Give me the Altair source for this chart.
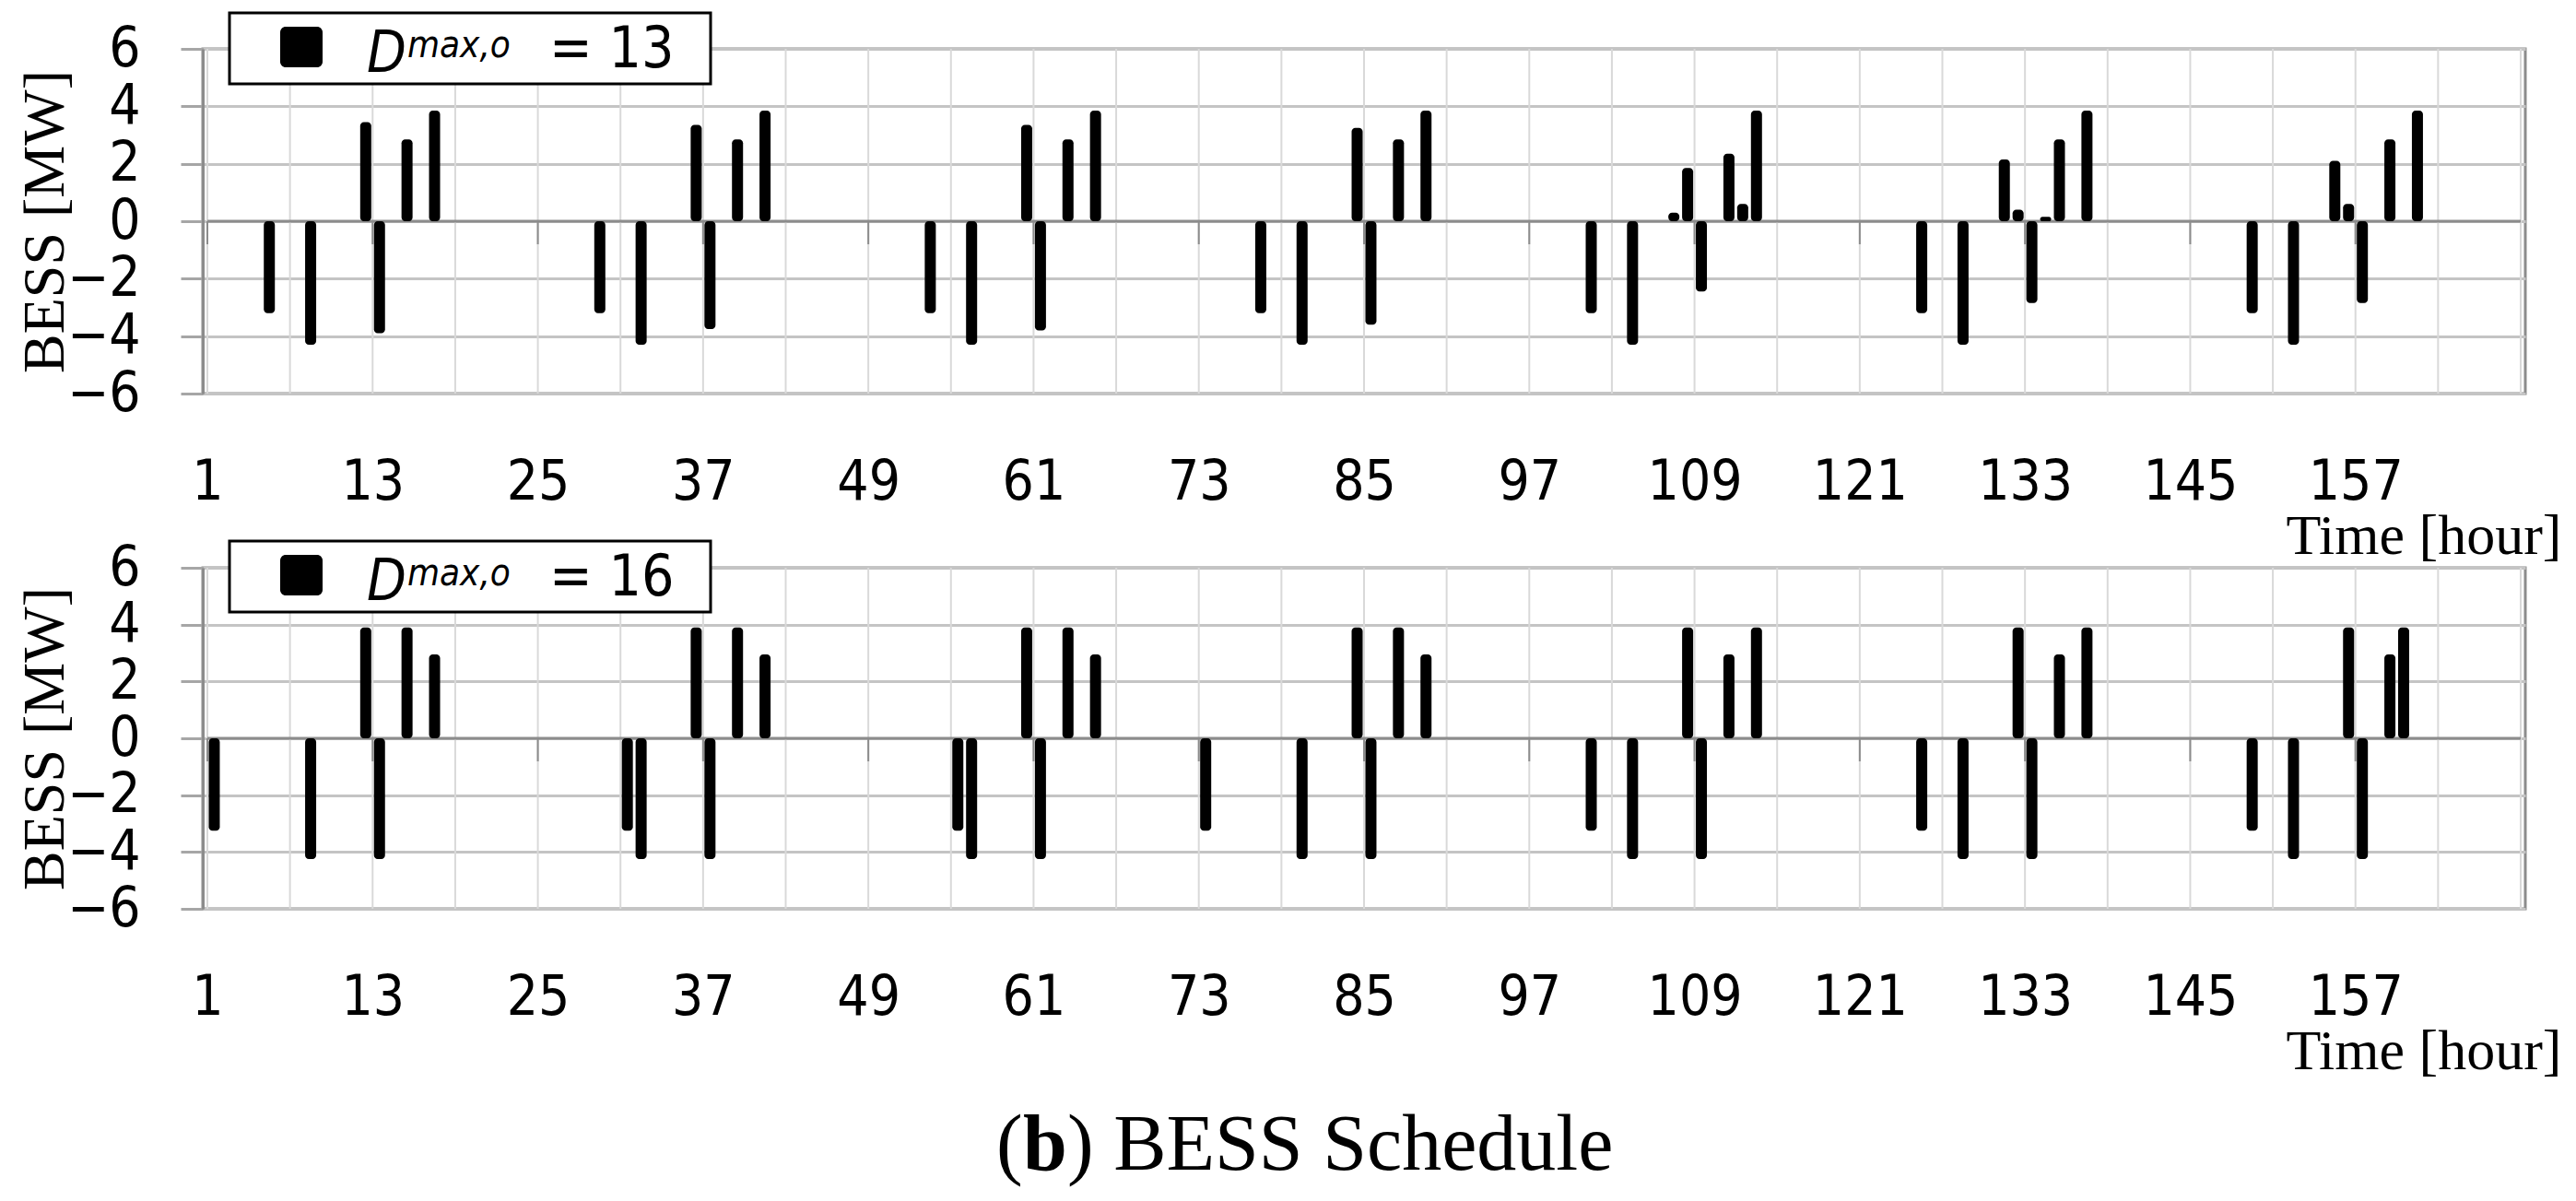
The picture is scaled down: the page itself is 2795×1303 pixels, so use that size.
import altair as alt
import pandas as pd

# ---------------- data ----------------
# upper panel  (D^max,o = 13) : hour index and BESS power [MW]
top_hours = [5, 8, 12, 13, 15, 17,
             29, 32, 36, 37, 39, 41,
             53, 56, 60, 61, 63, 65,
             77, 80, 84, 85, 87, 89,
             101, 104, 107, 108, 109, 111, 112, 113,
             125, 128, 131, 132, 133, 134, 135, 137,
             149, 152, 155, 156, 157, 159, 161]
top_values = [-3.2, -4.3, 3.45, -3.9, 2.85, 3.85,
              -3.2, -4.3, 3.35, -3.75, 2.85, 3.85,
              -3.2, -4.3, 3.35, -3.8, 2.85, 3.85,
              -3.2, -4.3, 3.25, -3.6, 2.85, 3.85,
              -3.2, -4.3, 0.3, 1.85, -2.45, 2.35, 0.6, 3.85,
              -3.2, -4.3, 2.15, 0.4, -2.85, 0.15, 2.85, 3.85,
              -3.2, -4.3, 2.1, 0.6, -2.85, 2.85, 3.85]

# lower panel (D^max,o = 16)
bottom_hours = [1, 8, 12, 13, 15, 17,
                31, 32, 36, 37, 39, 41,
                55, 56, 60, 61, 63, 65,
                73, 80, 84, 85, 87, 89,
                101, 104, 108, 109, 111, 113,
                125, 128, 132, 133, 135, 137,
                149, 152, 156, 157, 159, 160]
bottom_values = [-3.25, -4.25, 3.9, -4.25, 3.9, 2.95,
                 -3.25, -4.25, 3.9, -4.25, 3.9, 2.95,
                 -3.25, -4.25, 3.9, -4.25, 3.9, 2.95,
                 -3.25, -4.25, 3.9, -4.25, 3.9, 2.95,
                 -3.25, -4.25, 3.9, -4.25, 2.95, 3.9,
                 -3.25, -4.25, 3.9, -4.25, 2.95, 3.9,
                 -3.25, -4.25, 3.9, -4.25, 2.95, 3.9]

d_max_values = [13, 16]
x_label_hours = [1, 13, 25, 37, 49, 61, 73, 85, 97, 109, 121, 133, 145, 157]
x_grid_hours = list(range(1, 170, 6))
y_ticks = [-6, -4, -2, 0, 2, 4, 6]
y_title = "BESS [MW]"
x_title = "Time [hour]"
caption_parts = ["(", "b", ") BESS Schedule"]

# ---------------- styling ----------------
SANS = "DejaVu Sans Condensed, DejaVu Sans"
SERIF = "Liberation Serif"
W = 2520
H_TOP = 374
H_BOT = 370

xscale = alt.Scale(domain=[1, 169], nice=False, zero=False)
yscale = alt.Scale(domain=[-6, 6], nice=False)

xaxis = alt.Axis(
    values=x_label_hours,
    title=x_title, grid=False,
    ticks=False, tickSize=0, domain=False,
    labelPadding=114, labelBaseline="alphabetic", labelFlush=False,
    labelFont=SANS, labelFontSize=60, labelColor="black",
    titleX=W + 39, titleY=173, titleAlign="right", titleAnchor="end",
    titleBaseline="alphabetic", titleFont=SERIF, titleFontSize=62,
    titleFontWeight="normal", titleColor="black",
)


def y_axis(height):
    return alt.Axis(
        values=y_ticks, title=y_title, grid=True, gridColor="#C4C4C4", gridWidth=3,
        ticks=True, tickSize=24, tickColor="#A6A6A6", tickWidth=3,
        domain=True, domainColor="#8C8C8C", domainWidth=3,
        labelPadding=44, labelFont=SANS, labelFontSize=60, labelColor="black",
        titleX=-152, titleY=height / 2, titleAngle=270, titleAlign="center",
        titleBaseline="alphabetic", titleFont=SERIF, titleFontSize=64,
        titleFontWeight="normal", titleColor="black",
    )


def make_panel(hours, values, dmax, height, leg_dy, caption=False):
    yaxis = y_axis(height)
    df = pd.DataFrame({"hour": hours, "mw": values})
    grid_df = pd.DataFrame({"hour": x_grid_hours})
    vgrid = alt.Chart(grid_df).mark_rule(color="#D9D9D9", strokeWidth=2).encode(
        x=alt.X("hour:Q", scale=xscale, axis=xaxis),
    )
    zero_df = pd.DataFrame({"hour": [1, 169], "z": [0, 0]})
    zero_line = alt.Chart(zero_df).mark_line(color="#8C8C8C", strokeWidth=3).encode(
        x=alt.X("hour:Q", scale=xscale, axis=xaxis),
        y=alt.Y("z:Q", scale=yscale, axis=yaxis),
    )
    tick_df = pd.DataFrame({"hour": x_label_hours, "z": [0] * len(x_label_hours)})
    zero_ticks = alt.Chart(tick_df).mark_rule(color="#8C8C8C", strokeWidth=2, y2Offset=25).encode(
        x=alt.X("hour:Q", scale=xscale, axis=xaxis),
        y=alt.Y("z:Q", scale=yscale, axis=yaxis),
        y2=alt.Y2("z:Q"),
    )
    bars = alt.Chart(df).transform_calculate(pos="datum.hour + 0.5").mark_bar(
        width=12, cornerRadius=4, color="black"
    ).encode(
        x=alt.X("pos:Q", scale=xscale, axis=xaxis),
        y=alt.Y("mw:Q", scale=yscale, axis=yaxis),
        y2=alt.datum(0),
    )
    one = pd.DataFrame({"d": [dmax]})
    box = alt.Chart(one).mark_rect(fill="white", stroke="black", strokeWidth=3).encode(
        x=alt.value(29), x2=alt.value(551), y=alt.value(-39 + leg_dy), y2=alt.value(38 + leg_dy)
    )
    swatch = alt.Chart(one).mark_rect(fill="black", cornerRadius=6).encode(
        x=alt.value(84), x2=alt.value(130), y=alt.value(-24 + leg_dy), y2=alt.value(20 + leg_dy)
    )
    t_d = alt.Chart(one).mark_text(
        text="D", font=SANS, fontStyle="italic", fontSize=62, align="left",
        baseline="alphabetic", color="black"
    ).encode(x=alt.value(178), y=alt.value(25 + leg_dy))
    t_sup = alt.Chart(one).mark_text(
        text="max,o", font=SANS, fontStyle="italic", fontSize=40, align="left",
        baseline="alphabetic", color="black"
    ).encode(x=alt.value(222), y=alt.value(9 + leg_dy))
    t_val = alt.Chart(one).transform_calculate(lbl="'= ' + datum.d").mark_text(
        font=SANS, fontSize=62, align="left", baseline="alphabetic", color="black"
    ).encode(text="lbl:N", x=alt.value(376), y=alt.value(20 + leg_dy))

    layers = [vgrid, zero_line, zero_ticks, bars, box, swatch, t_d, t_sup, t_val]
    if caption:
        c1 = alt.Chart(one).mark_text(
            text=caption_parts[0], font=SERIF, fontSize=86, align="left",
            baseline="alphabetic", color="black"
        ).encode(x=alt.value(861), y=alt.value(653))
        c2 = alt.Chart(one).mark_text(
            text=caption_parts[1], font=SERIF, fontSize=86, fontWeight="bold", align="left",
            baseline="alphabetic", color="black"
        ).encode(x=alt.value(890), y=alt.value(653))
        c3 = alt.Chart(one).mark_text(
            text=caption_parts[2], font=SERIF, fontSize=86, align="left",
            baseline="alphabetic", color="black"
        ).encode(x=alt.value(938), y=alt.value(653))
        layers += [c1, c2, c3]
    return alt.layer(*layers).properties(width=W, height=height)


top = make_panel(top_hours, top_values, d_max_values[0], H_TOP, 0)
bottom = make_panel(bottom_hours, bottom_values, d_max_values[1], H_BOT, 10, caption=True)

chart = alt.vconcat(top, bottom, spacing=189, bounds="flush").configure_view(
    stroke="#8C8C8C", strokeWidth=3
).properties(
    padding={"left": 7, "top": 3, "right": 0, "bottom": 0},
    background="white",
)

chart.save("out.html", embed_options={"renderer": "svg", "actions": False})
